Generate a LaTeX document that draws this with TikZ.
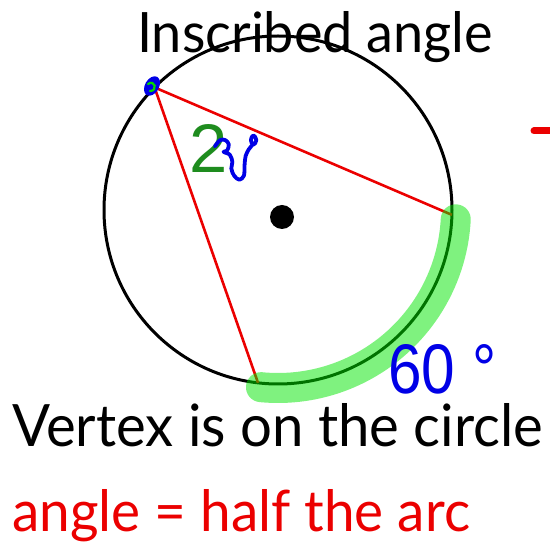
\documentclass[tikz,border=0pt]{standalone}
\usepackage{fontspec}
\setmainfont{Lato}
\newfontfamily\arialf{Liberation Sans}
\usetikzlibrary{calc}
\definecolor{blueink}{RGB}{0,0,230}
\definecolor{greenink}{RGB}{30,140,30}
\definecolor{hilite}{RGB}{0,230,0}
\definecolor{redink}{RGB}{235,0,0}
\tikzset{
  txt/.style={anchor=base west, inner sep=0pt},
  chord/.style={draw=redink, line width=2.6pt},
  ink/.style={blueink, line width=3.8pt, line cap=round, line join=round},
}
\begin{document}
\begin{tikzpicture}[x=1pt,y=-1pt]
\useasboundingbox (0,0) rectangle (550,545);
\coordinate (O) at (278,210);
\coordinate (V) at ($(O)+(224.8:174)$);
\coordinate (B) at ($(O)+(1.6:174)$);
\coordinate (C) at ($(O)+(96.6:174)$);
% circle
\draw[line width=3pt] (O) circle (174pt);
% center dot
\fill (282,217) circle (12pt);
% chords
\draw[chord] (B) -- (V) -- (C);
% vertex scribble
\fill[blueink, rotate around={-30:(152,86)}] (152,86) ellipse (7pt and 10.5pt);
\draw[green!85!black, line width=2.2pt, line cap=round] (148,84) .. controls (155,79) and (158,91) .. (150,91);
% highlighted arc
\draw[draw=hilite, draw opacity=0.5, line width=30pt, line cap=round]
  ($(O)+(3:178)$) arc[start angle=3, end angle=95.5, radius=178];
% red dash at right edge
\coordinate (d1) at (534,131);
\coordinate (d2) at (556,131);
\draw[redink, line width=7pt, line cap=round] (d1) -- (d2);
% angle label
\node[txt, text=greenink] (two) at (189,173) {\resizebox{!}{48pt}{\arialf 2}};
\begin{scope}[shift={(218,131)}, xscale=1.05, yscale=1.25, shift={(-218,-131)}]
\draw[ink] plot[smooth, tension=0.55] coordinates {(215,143.3) (220,138.3) (225,138.3) (228.3,141.7) (226.7,146.7) (223.3,147.7) (229.3,150) (231.7,155.7) (230.7,161) (233.3,166.7) (238.3,170) (242.7,166.7) (243.3,158.3) (244.3,151) (247.3,145.7) (250.7,142.3)};
\draw[ink] plot[smooth cycle, tension=0.7] coordinates {(249.3,138.3) (251.7,134.5) (254.5,138.3) (251.7,142)};
\end{scope}
% texts
\node[txt] (title) at (137,53) {\resizebox{356pt}{41pt}{Inscribed angle}};
\node[txt, text=blueink] (arclab) at (388,394) {\resizebox{108pt}{49pt}{\arialf 60 °}};
\node[txt] (vtx) at (12,447) {\resizebox{531pt}{43pt}{Vertex is on the circle}};
\node[txt, text=redink] (rule) at (12,532) {\resizebox{458pt}{42pt}{angle = half the arc}};
\end{tikzpicture}
\end{document}
